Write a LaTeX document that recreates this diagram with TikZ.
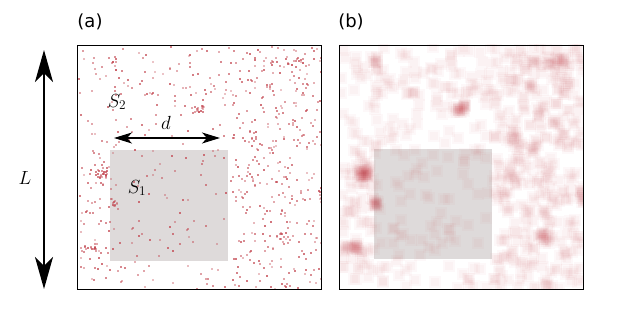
\RequirePackage{fix-cm}
\documentclass[tikz,border=0pt]{standalone}
\usepackage{fontspec}
\newfontfamily\labfont{DejaVu Sans}
\usetikzlibrary{arrows.meta}
\definecolor{dotred}{RGB}{195,70,80}
\definecolor{blurred}{RGB}{200,60,70}
\definecolor{sqgray}{RGB}{222,218,218}
\newcommand\pdot[2]{%
  \pgfmathsetmacro\op{0.3+0.45*rnd}%
  \begin{scope}\clip (77,45) rectangle (321,289);
  \fill[dotred,opacity=\op] (#1,#2) rectangle ++(2,2);\end{scope}
  \begin{scope}\clip (339,45) rectangle (583,289);
  \fill[blurred,opacity=0.03] (#1+262-5.5,#2-5.5) rectangle ++(12,12);
  \fill[blurred,opacity=0.03] (#1+262-3.5,#2-3.5) rectangle ++(8,8);\end{scope}}
\begin{document}
\begin{tikzpicture}[x=1pt,y=-1pt,
  panel/.style={draw=black,line width=0.9pt},
  graysq/.style={fill=sqgray},
  biglab/.style={font=\labfont\fontsize{18}{20}\selectfont,inner sep=0pt},
  mathlab/.style={font=\fontsize{19}{22}\selectfont,inner sep=0pt},
  bigarrow/.style={line width=2pt,{Stealth[length=32pt,width=18pt,inset=9pt]}-{Stealth[length=32pt,width=18pt,inset=9pt]}},
  smallarrow/.style={line width=1.5pt,{Stealth[length=18pt,width=11pt,inset=5pt]}-{Stealth[length=18pt,width=11pt,inset=5pt]}}]
\useasboundingbox (0,0) rectangle (623,318);
\fill[white] (0,0) rectangle (623,318);
% gray squares
\fill[graysq] (110,150) rectangle (228,261);
\fill[graysq] (374,149) rectangle (492,259);
% dots
\pgfmathsetseed{7}
\foreach \i in {1,...,300}{\pgfmathsetmacro\xx{78+242*rnd}\pgfmathsetmacro\yy{46+242*rnd}\pdot{\xx}{\yy}}
\foreach \i in {1,...,230}{\pgfmathsetmacro\xx{232+89*rnd}\pgfmathsetmacro\yy{46+242*rnd}\pdot{\xx}{\yy}}
\foreach \i in {1,...,70}{\pgfmathsetmacro\xx{78+242*rnd}\pgfmathsetmacro\yy{46+50*rnd}\pdot{\xx}{\yy}}
\foreach \i in {1,...,40}{\pgfmathsetmacro\xx{78+30*rnd}\pgfmathsetmacro\yy{140+140*rnd}\pdot{\xx}{\yy}}
\foreach \i in {1,...,26}{\pgfmathsetmacro\xx{101+6*rand}\pgfmathsetmacro\yy{172+5*rand}\pdot{\xx}{\yy}}
\foreach \i in {1,...,18}{\pgfmathsetmacro\xx{197+6*rand}\pgfmathsetmacro\yy{108+4*rand}\pdot{\xx}{\yy}}
\foreach \i in {1,...,14}{\pgfmathsetmacro\xx{88+8*rand}\pgfmathsetmacro\yy{247+4*rand}\pdot{\xx}{\yy}}
\foreach \i in {1,...,10}{\pgfmathsetmacro\xx{114+3*rand}\pgfmathsetmacro\yy{203+3*rand}\pdot{\xx}{\yy}}
\foreach \i in {1,...,10}{\pgfmathsetmacro\xx{320+3*rand}\pgfmathsetmacro\yy{196+6*rand}\pdot{\xx}{\yy}}
\foreach \i in {1,...,12}{\pgfmathsetmacro\xx{282+6*rand}\pgfmathsetmacro\yy{237+6*rand}\pdot{\xx}{\yy}}
\foreach \i in {1,...,14}{\pgfmathsetmacro\xx{295+10*rand}\pgfmathsetmacro\yy{62+8*rand}\pdot{\xx}{\yy}}
% frames
\draw[panel] (77,45) rectangle (321,289);
\draw[panel] (339,45) rectangle (583,289);
% labels
\node[biglab] (la) at (90,22) {(a)};
\node[biglab] (lb) at (351,22) {(b)};
\node[mathlab] (L) at (25,178) {$L$};
\node[mathlab] (d) at (166,123) {$d$};
\node[mathlab] (s2) at (117,102) {$S_{2}$};
\node[mathlab] (s1) at (137,188) {$S_{1}$};
% arrows
\coordinate (Ltop) at (44,50);
\coordinate (Lbot) at (44,289);
\coordinate (dl) at (114,138);
\coordinate (dr) at (220,138);
\draw[bigarrow] (Ltop) -- (Lbot);
\draw[smallarrow] (dl) -- (dr);
\end{tikzpicture}
\end{document}
